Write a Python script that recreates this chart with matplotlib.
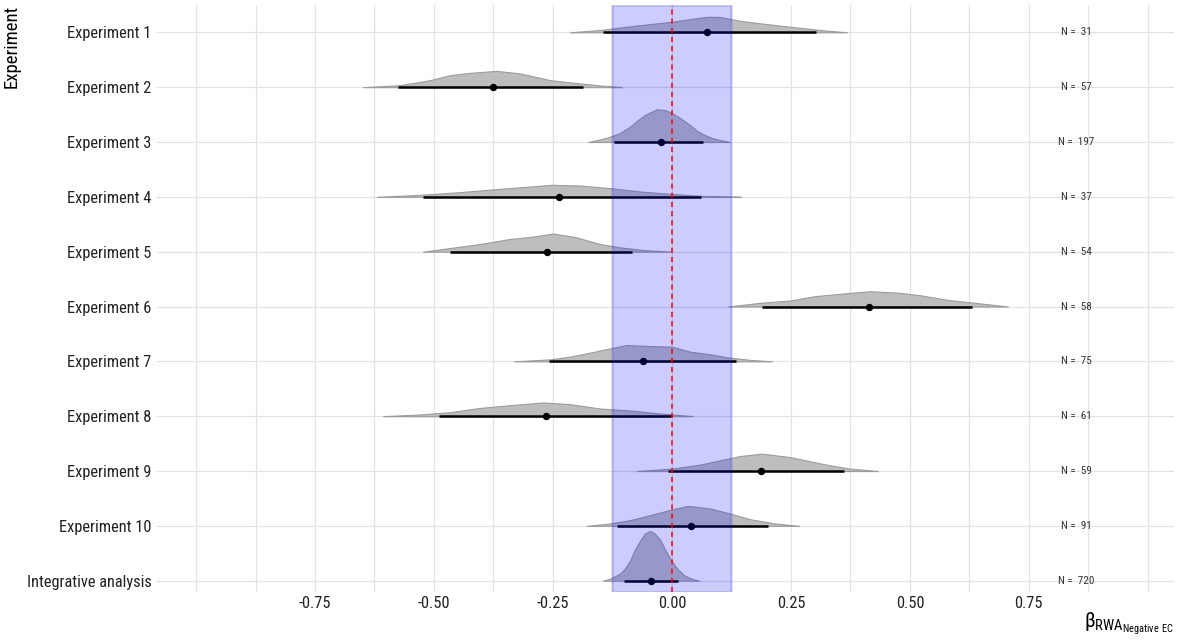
import numpy as np
import matplotlib.pyplot as plt

# 表示するデータ
experiments = ["Experiment 1", "Experiment 2", "Experiment 3", "Experiment 4",
               "Experiment 5", "Experiment 6", "Experiment 7", "Experiment 8",
               "Experiment 9", "Experiment 10", "Integrative analysis"]
n_obs = [31, 57, 197, 37, 54, 58, 75, 61, 59, 91, 720]
medians = [0.074, -0.376, -0.023, -0.237, -0.263, 0.414, -0.061, -0.265, 0.187, 0.040, -0.045]
ci_low = [-0.145, -0.576, -0.122, -0.523, -0.466, 0.189, -0.258, -0.489, -0.008, -0.116, -0.101]
ci_high = [0.303, -0.187, 0.065, 0.061, -0.084, 0.630, 0.134, 0.000, 0.361, 0.202, 0.012]
rope_low, rope_high = -0.125, 0.125

# 事後分布の形 (x, 行の高さに対する割合)
dens_x = [
    [-0.214, -0.151, -0.088, 0.0, 0.059, 0.076, 0.101, 0.143, 0.185, 0.248, 0.311, 0.368],
    [-0.649, -0.571, -0.508, -0.466, -0.424, -0.368, -0.319, -0.256, -0.214, -0.151, -0.105],
    [-0.176, -0.151, -0.130, -0.109, -0.088, -0.074, -0.057, -0.032, -0.015, 0.0, 0.017,
     0.038, 0.053, 0.069, 0.084, 0.101, 0.122],
    [-0.620, -0.529, -0.445, -0.361, -0.298, -0.252, -0.193, -0.130, -0.067, -0.004, 0.059, 0.145],
    [-0.523, -0.466, -0.403, -0.340, -0.298, -0.250, -0.204, -0.151, -0.109, -0.057, 0.0],
    [0.118, 0.185, 0.248, 0.300, 0.353, 0.416, 0.479, 0.521, 0.584, 0.637, 0.706],
    [-0.332, -0.256, -0.214, -0.172, -0.130, -0.095, -0.046, 0.0, 0.038, 0.080, 0.122, 0.164, 0.210],
    [-0.607, -0.529, -0.466, -0.403, -0.340, -0.271, -0.214, -0.151, -0.088, -0.025, 0.044],
    [-0.074, 0.0, 0.059, 0.101, 0.143, 0.189, 0.248, 0.290, 0.332, 0.374, 0.433],
    [-0.179, -0.130, -0.088, -0.046, 0.0, 0.034, 0.080, 0.122, 0.164, 0.216, 0.267],
    [-0.145, -0.130, -0.109, -0.099, -0.088, -0.078, -0.067, -0.057, -0.046, -0.036, -0.025,
     -0.013, 0.0, 0.013, 0.027, 0.042, 0.057],
]
dens_h = [
    [0, 0.042, 0.109, 0.193, 0.266, 0.284, 0.279, 0.211, 0.164, 0.102, 0.042, 0],
    [0, 0.036, 0.128, 0.219, 0.261, 0.297, 0.250, 0.128, 0.086, 0.031, 0],
    [0, 0.046, 0.097, 0.164, 0.279, 0.383, 0.492, 0.596, 0.583, 0.529, 0.438,
     0.310, 0.201, 0.128, 0.073, 0.036, 0],
    [0, 0.036, 0.086, 0.146, 0.188, 0.219, 0.206, 0.159, 0.097, 0.055, 0.018, 0],
    [0, 0.067, 0.140, 0.232, 0.268, 0.330, 0.268, 0.140, 0.078, 0.027, 0],
    [0, 0.067, 0.109, 0.188, 0.232, 0.279, 0.250, 0.206, 0.115, 0.067, 0],
    [0, 0.036, 0.086, 0.159, 0.237, 0.297, 0.279, 0.268, 0.177, 0.128, 0.067, 0.027, 0],
    [0, 0.031, 0.073, 0.151, 0.201, 0.250, 0.219, 0.140, 0.104, 0.049, 0],
    [0, 0.044, 0.117, 0.195, 0.273, 0.317, 0.255, 0.177, 0.104, 0.044, 0],
    [0, 0.044, 0.104, 0.195, 0.299, 0.365, 0.317, 0.226, 0.122, 0.044, 0],
    [0, 0.036, 0.128, 0.219, 0.365, 0.565, 0.729, 0.857, 0.906, 0.857, 0.748,
     0.547, 0.346, 0.201, 0.091, 0.036, 0],
]

xtick_vals = [-0.75, -0.5, -0.25, 0.0, 0.25, 0.5, 0.75]
xtick_labels = ["-0.75", "-0.50", "-0.25", "0.00", "0.25", "0.50", "0.75"]

plt.rcParams['font.family'] = ['Roboto Condensed', 'Liberation Sans Narrow', 'Roboto', 'DejaVu Sans']
plt.rcParams['mathtext.fontset'] = 'custom'
plt.rcParams['mathtext.rm'] = 'Roboto Condensed'

W, H = 1181, 643
fig = plt.figure(figsize=(W / 100, H / 100), dpi=100)
ax = fig.add_axes([157 / W, 51 / H, 1017 / W, 587 / H])

ypos = 10 - np.arange(len(experiments))

# グリッド
for gx in np.arange(-1.0, 1.0001, 0.125):
    ax.axvline(gx, color='#e2e2e2', lw=0.9, zorder=0)
for gy in ypos:
    ax.axhline(gy, color='#e2e2e2', lw=0.9, zorder=0)

# 分布・区間・中央値
for i, y0 in enumerate(ypos):
    x = np.array(dens_x[i])
    h = np.array(dens_h[i])
    ax.fill_between(x, y0, y0 + h, facecolor='#bdbdbd', edgecolor='#9c9c9c', lw=0.8, zorder=2)
    ax.plot([ci_low[i], ci_high[i]], [y0, y0], color='black', lw=1.8,
            solid_capstyle='butt', zorder=3)
    ax.plot(medians[i], y0, 'o', color='black', ms=4.3, zorder=4)
    ax.text(0.85, y0, f"N =  {n_obs[i]}", ha='center', va='center',
            fontsize=8, color='#333333', zorder=7)

# ROPE と 0 の線
ax.axvspan(rope_low, rope_high, facecolor=(0, 0, 1, 0.2), edgecolor=(0, 0, 1, 0.12),
           lw=2, zorder=5)
ax.axvline(0, color='red', ls=(0, (3.3, 2.7)), lw=1.1, zorder=6)

ax.set_xlim(-1.082, 1.055)
ax.set_ylim(-0.206, 10.498)
ax.set_xticks(xtick_vals)
ax.set_xticklabels(xtick_labels)
ax.set_yticks(ypos)
ax.set_yticklabels(experiments)
ax.tick_params(length=0, labelsize=11.8, labelcolor='#222222')
ax.tick_params(axis='x', pad=3)
ax.tick_params(axis='y', pad=4)
for s in ax.spines.values():
    s.set_visible(False)

fig.text(12 / W, 1 - 5 / H, "Experiment", rotation=90, ha='center', va='top',
         fontsize=13.5, color='black')
fig.text(1174 / W, 1 - 624 / H, r'$\mathrm{\beta_{RWA_{Negative\ EC}}}$',
         ha='right', va='center', fontsize=15, color='black')

fig.savefig('out.png', dpi=100)
